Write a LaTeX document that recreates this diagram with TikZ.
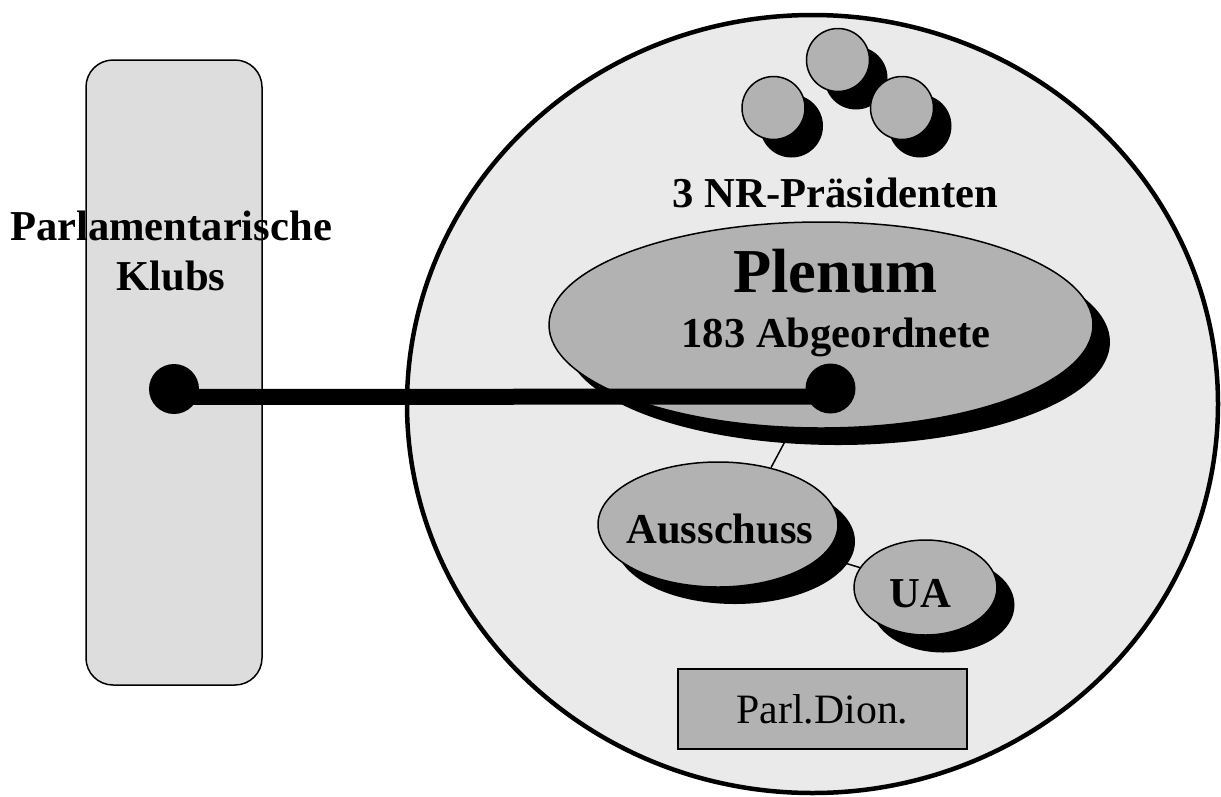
\documentclass[tikz,border=0pt]{standalone}
\usepackage{fontspec}
\setmainfont{Liberation Serif}
\usetikzlibrary{shapes.geometric}
\definecolor{bigfill}{RGB}{234,234,234}
\definecolor{klubfill}{RGB}{221,221,221}
\definecolor{shapefill}{RGB}{178,178,178}
\pgfdeclarelayer{bgl}
\pgfdeclarelayer{lines}
\pgfsetlayers{bgl,lines,main}
\begin{document}
\begin{tikzpicture}[x=1pt,y=-1pt,
  ell/.style={ellipse, fill=shapefill, draw=black, line width=1.5pt, inner sep=0pt},
  shell/.style={ellipse, fill=black, draw=none, inner sep=0pt},
  lbl/.style={font=\fontsize{42.6}{50}\selectfont\bfseries, anchor=base, inner sep=0pt},
  bigdot/.style={circle, fill=black, draw=none, minimum size=50pt, inner sep=0pt},
  pres/.style={circle, fill=shapefill, draw=black, line width=1.5pt, minimum size=63pt, inner sep=0pt},
  presh/.style={circle, fill=black, draw=none, minimum size=63pt, inner sep=0pt},
  thinline/.style={draw=black, line width=1.5pt}]
\useasboundingbox (0,0) rectangle (1221,796);
\begin{pgfonlayer}{bgl}
\fill[white] (0,0) rectangle (1221,796);
\node[draw=black, line width=1.5pt, fill=klubfill, rounded corners=27pt,
      minimum width=176pt, minimum height=625pt, inner sep=0pt] (klubs) at (174,372.5) {};
\node[ellipse, draw=black, line width=4.5pt, fill=bigfill,
      minimum width=811pt, minimum height=778pt, inner sep=0pt] (nr) at (812.5,404) {};
\end{pgfonlayer}

\node[lbl] (kt1) at (171,240) {Parlamentarische};
\node[lbl] (kt2) at (171,290) {Klubs};

% presidents
\node[presh] (p1s) at (791.5,126) {};
\node[presh] (p2s) at (856,78) {};
\node[presh] (p3s) at (920,126) {};
\node[pres] (p1) at (773.5,108) {};
\node[pres] (p2) at (838,60) {};
\node[pres] (p3) at (902,108) {};
\node[lbl] (prestxt) at (835.5,207) {3 NR-Präsidenten};

% plenum
\node[shell, minimum width=544pt, minimum height=206pt] (plsh) at (838,342) {};
\node[ell, minimum width=544pt, minimum height=206pt] (pl) at (821,325) {};
\node[lbl, font=\fontsize{62.5}{70}\selectfont\bfseries] (pltxt) at (835.5,292) {Plenum};
\node[lbl] (abg) at (836,347) {183 Abgeordnete};

% Ausschuss
\node[shell, minimum width=240pt, minimum height=125pt] (ash) at (735,541.5) {};
\node[ell, minimum width=240pt, minimum height=125pt] (aus) at (718,524.5) {};
\node[lbl] (austxt) at (720,543) {Ausschuss};

% UA
\node[shell, minimum width=143pt, minimum height=95pt] (uash) at (943,605) {};
\node[ell, minimum width=143pt, minimum height=95pt] (ua) at (925.5,587.5) {};
\node[lbl] (uatxt) at (920.5,607) {UA};

\begin{pgfonlayer}{lines}
\draw[thinline] (plsh.center) -- (aus.47);
\draw[thinline] (aus.center) -- (ua.center);
\end{pgfonlayer}

% Parl.Dion.
\node[draw=black, line width=1.5pt, fill=shapefill, minimum width=289pt, minimum height=80pt,
      inner sep=0pt, font=\fontsize{41.8}{50}\selectfont] (pd) at (822.5,709) {Parl.Dion.};

% connection bar
\node[bigdot] (ld) at (174,389) {};
\node[bigdot] (rd) at (830.5,388.5) {};
\draw[line width=16pt] ([yshift=-8pt]ld.center) -- ([yshift=-8pt]rd.center);
\end{tikzpicture}
\end{document}
